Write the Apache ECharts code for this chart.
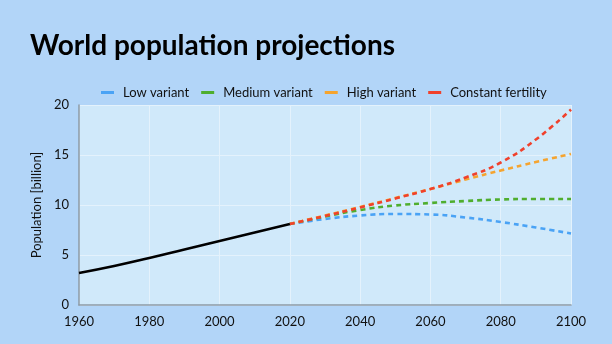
<!DOCTYPE html>
<html>
<head>
<meta charset="utf-8">
<script src="https://cdn.jsdelivr.net/npm/echarts@6/dist/echarts.min.js"></script>
<style>
  html, body { margin: 0; padding: 0; background: #b2d5f8; }
  #chart { width: 612px; height: 344px; }
</style>
</head>
<body>
<div id="chart"></div>
<script>
// Historical world population (billion)
const histYears = [1960, 1970, 1980, 1990, 2000, 2010, 2020];
const histValues = [3.2, 3.9, 4.7, 5.55, 6.4, 7.25, 8.1];

// UN projection variants (billion)
const projYears = [2020, 2030, 2040, 2050, 2060, 2070, 2080, 2090, 2100];
const lowVariant = [8.1, 8.6, 8.95, 9.1, 9.05, 8.75, 8.3, 7.75, 7.15];
const mediumVariant = [8.1, 8.85, 9.5, 9.95, 10.2, 10.4, 10.55, 10.6, 10.6];
const highVariant = [8.1, 8.95, 9.8, 10.7, 11.6, 12.55, 13.45, 14.3, 15.1];
const constantFertility = [8.1, 8.9, 9.75, 10.65, 11.6, 12.75, 14.25, 16.55, 19.55];

const seriesNames = ['Low variant', 'Medium variant', 'High variant', 'Constant fertility'];
const seriesColors = ['#4aa3f5', '#4fae2e', '#f5a42f', '#f0412c'];
const xTicks = { min: 1960, max: 2100, step: 20 };
const yTicks = { min: 0, max: 20, step: 5 };

const FONT = 'Lato, "Open Sans", sans-serif';
const pairs = (xs, ys) => xs.map((x, i) => [x, ys[i]]);

const projSeries = [lowVariant, mediumVariant, highVariant, constantFertility].map((vals, i) => ({
  name: seriesNames[i],
  type: 'line',
  data: pairs(projYears, vals),
  smooth: 0.5,
  showSymbol: false,
  color: seriesColors[i],
  lineStyle: { width: 2.6, type: [5, 4], color: seriesColors[i] },
  z: 3
}));

const chart = echarts.init(document.getElementById('chart'), null, { renderer: 'canvas' });
chart.setOption({
  backgroundColor: '#b2d5f8',
  animation: false,
  title: {
    text: 'World population projections',
    left: 25,
    top: 27,
    textStyle: { fontFamily: FONT, fontWeight: 'bold', fontSize: 28, color: '#000' }
  },
  legend: {
    data: seriesNames,
    top: 81,
    left: 96,
    icon: 'rect',
    itemWidth: 13,
    itemHeight: 3,
    itemGap: 12,
    textStyle: { fontFamily: FONT, fontSize: 13, color: '#111', padding: [0, 0, 0, 4] }
  },
  grid: {
    left: 79, right: 41, top: 105, bottom: 39,
    show: true,
    backgroundColor: '#d0e9fa',
    borderWidth: 0
  },
  xAxis: {
    type: 'value',
    min: xTicks.min, max: xTicks.max, interval: xTicks.step,
    axisLine: { show: true, lineStyle: { color: '#8c9aa6', width: 1.5 } },
    axisTick: { show: false },
    splitLine: { show: true, lineStyle: { color: '#e4f2fc', width: 1 } },
    axisLabel: { fontFamily: FONT, fontSize: 13, color: '#111', margin: 10, formatter: v => String(v) }
  },
  yAxis: {
    type: 'value',
    min: yTicks.min, max: yTicks.max, interval: yTicks.step,
    name: 'Population [billion]',
    nameLocation: 'middle',
    nameGap: 36,
    nameTextStyle: { fontFamily: FONT, fontSize: 13, color: '#111' },
    axisLine: { show: true, lineStyle: { color: '#8c9aa6', width: 1.5 } },
    axisTick: { show: false },
    splitLine: { show: true, lineStyle: { color: '#e4f2fc', width: 1 } },
    axisLabel: { fontFamily: FONT, fontSize: 13, color: '#111', margin: 10 }
  },
  series: [
    {
      name: 'Historical',
      type: 'line',
      data: pairs(histYears, histValues),
      smooth: 0.5,
      showSymbol: false,
      lineStyle: { width: 2.6, color: '#000' },
      z: 4
    },
    ...projSeries
  ]
});
</script>
</body>
</html>
